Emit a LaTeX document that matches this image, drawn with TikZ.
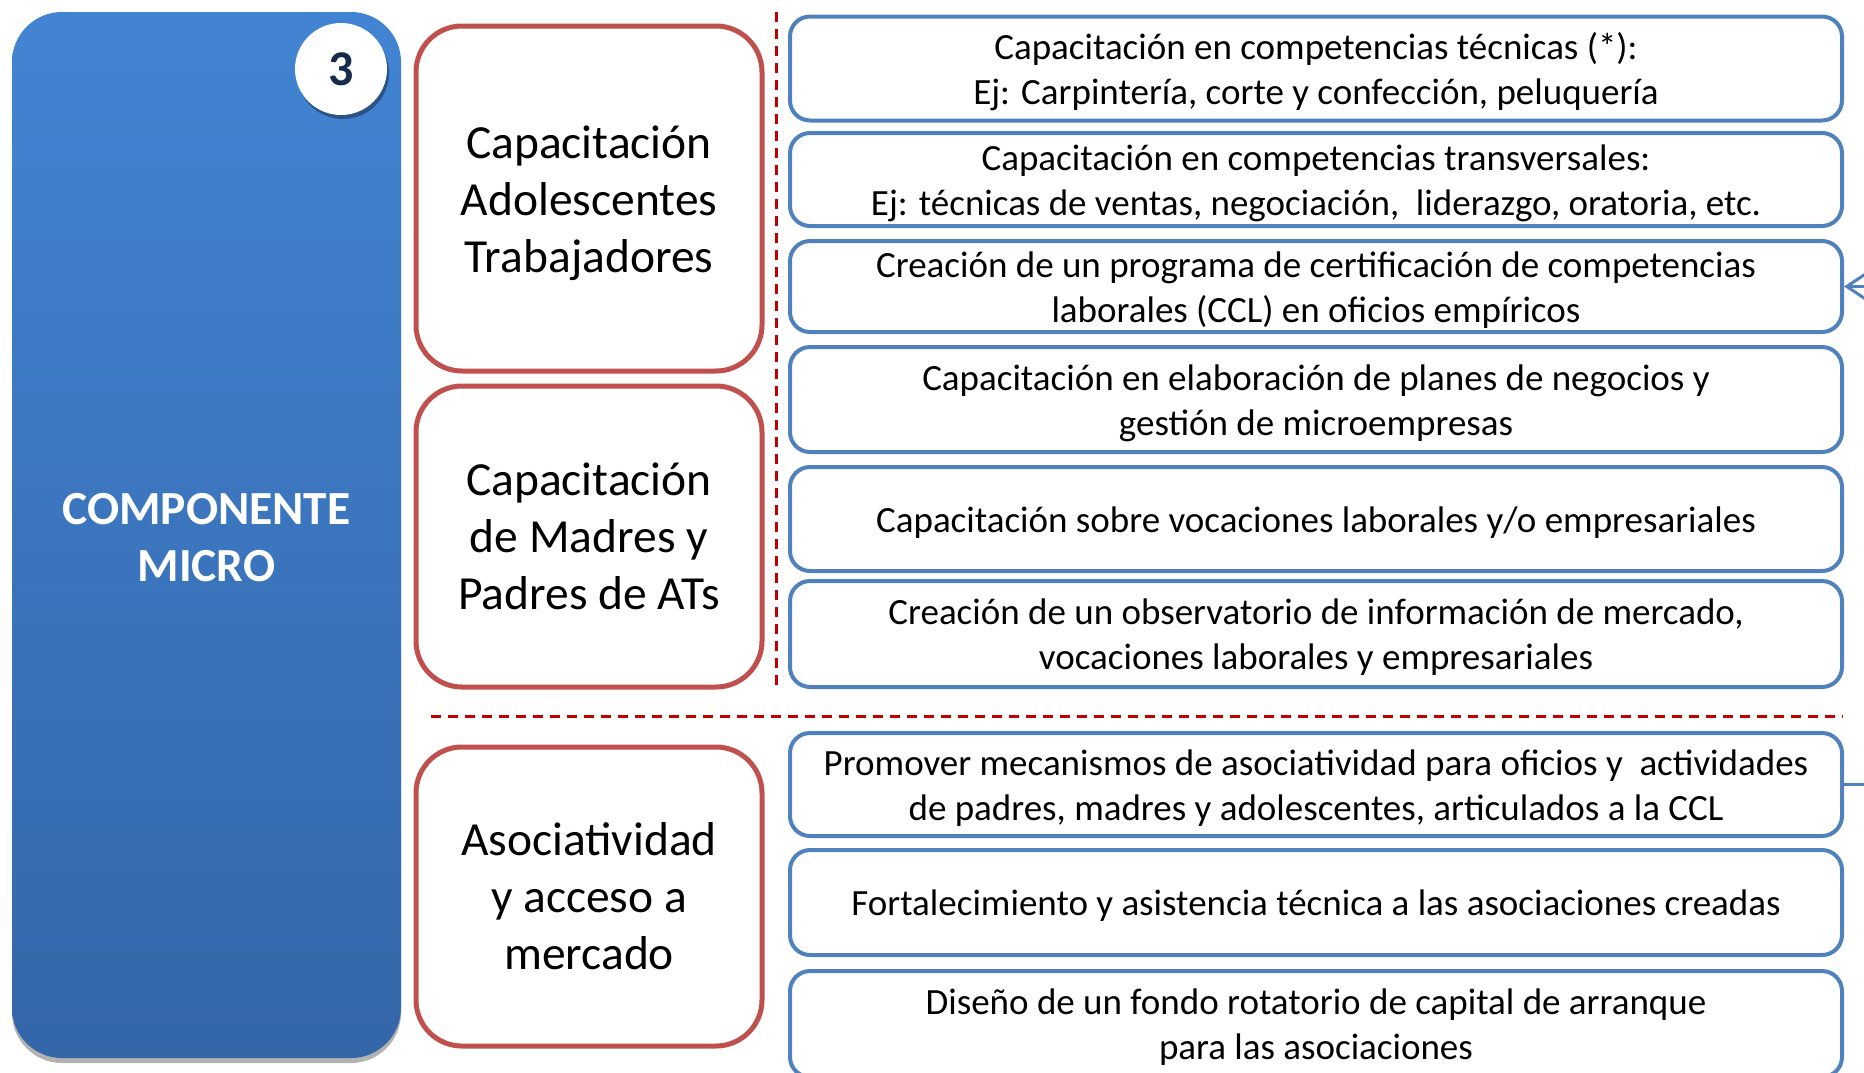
\documentclass[tikz,border=0pt]{standalone}
\usepackage{fontspec}
\setmainfont{Carlito}
\usetikzlibrary{arrows.meta,shadows}
\definecolor{redc}{RGB}{192,80,77}
\definecolor{bluec}{RGB}{79,129,189}
\definecolor{dashc}{RGB}{192,0,0}
\definecolor{bigtop}{RGB}{66,132,211}
\definecolor{bigbot}{RGB}{52,102,168}
\definecolor{navy}{RGB}{23,43,77}
\newcommand\redfnt{\fontsize{47.5}{57}\selectfont}
\newcommand\bluefnt{\fontsize{37}{45}\selectfont}
\newcommand\compfnt{\fontsize{47.5}{57}\selectfont\bfseries}
\newcommand\numfnt{\fontsize{50}{60}\selectfont\bfseries}
\tikzset{
  redbox/.style={draw=redc, line width=5pt, rounded corners=46pt, fill=white,
    minimum width=346pt, inner sep=0pt},
  redtext/.style={align=center, font=\redfnt, inner sep=0pt},
  bluebox/.style={draw=bluec, line width=4pt, rounded corners=20pt, fill=white,
    minimum width=1052pt, inner sep=0pt},
  bluetext/.style={align=center, font=\bluefnt, inner sep=0pt},
  bigbox/.style={rounded corners=50pt, top color=bigtop, bottom color=bigbot,
    minimum width=389pt, minimum height=1046pt, inner sep=0pt,
    drop shadow={shadow xshift=0pt, shadow yshift=-5pt, opacity=0.3, fill=black}},
  comptext/.style={align=center, font=\compfnt, text=white, inner sep=0pt},
  numcircle/.style={circle, fill=white, minimum size=92pt, inner sep=0pt,
    font=\numfnt, text=navy,
    drop shadow={shadow xshift=2pt, shadow yshift=-4pt, opacity=0.35, fill=black}},
  dashline/.style={draw=dashc, line width=3pt, dash pattern=on 10pt off 7pt},
  conn/.style={draw=bluec, line width=3pt},
}
\begin{document}
\begin{tikzpicture}[x=1pt,y=-1pt]
\useasboundingbox (0,0) rectangle (1864,1072);
\clip (0,0) rectangle (1864,1072);
% big component box
\node[bigbox] (comp) at (206.5,535) {};
\node[comptext] (compt) at ([yshift=-2.5pt]comp.center) {COMPONENTE\\MICRO};
\node[numcircle] (num) at (341,69) {3};
% dashed separators
\coordinate (vtop) at (776,12);
\coordinate (vbot) at (776,687);
\coordinate (hl) at (431,716);
\coordinate (hr) at (1843,716);
\draw[dashline] (vtop) -- (vbot);
\draw[dashline] (hl) -- (hr);
% red boxes
\node[redbox, minimum height=345pt] (r1) at (589,198.5) {};
\node[redbox, minimum height=301pt] (r2) at (589,536.5) {};
\node[redbox, minimum height=299pt] (r3) at (589,896.5) {};
\node[redtext] (r1t) at ([yshift=-4.5pt]r1.center) {Capacitación\\Adolescentes\\Trabajadores};
\node[redtext] (r2t) at (r2.center) {Capacitación\\de Madres y\\Padres de ATs};
\node[redtext] (r3t) at (r3.center) {Asociatividad\\y acceso a\\mercado};
% blue boxes
\node[bluebox, minimum height=104pt] (b1) at (1316,68.5) {};
\node[bluebox, minimum height=93pt] (b2) at (1316,179.5) {};
\node[bluebox, minimum height=91pt] (b3) at (1316,286.5) {};
\node[bluebox, minimum height=105pt] (b4) at (1316,399.5) {};
\node[bluebox, minimum height=104pt] (b5) at (1316,519) {};
\node[bluebox, minimum height=106pt] (b6) at (1316,634) {};
\node[bluebox, minimum height=103pt] (b7) at (1316,784.5) {};
\node[bluebox, minimum height=105pt] (b8) at (1316,902.5) {};
\node[bluebox, minimum height=106pt] (b9) at (1316,1024) {};
\node[bluetext] (b1t) at ([yshift=-3.6pt]b1.center) {Capacitación en competencias técnicas (*):\\Ej: Carpintería, corte y confección, peluquería};
\node[bluetext] (b2t) at ([yshift=-3.6pt]b2.center) {Capacitación en competencias transversales:\\Ej: técnicas de ventas, negociación,\ \ liderazgo, oratoria, etc.};
\node[bluetext] (b3t) at ([yshift=-3.6pt]b3.center) {Creación de un programa de certificación de competencias\\laborales (CCL) en oficios empíricos};
\node[bluetext] (b4t) at ([yshift=-3.6pt]b4.center) {Capacitación en elaboración de planes de negocios y\\gestión de microempresas};
\node[bluetext] (b5t) at ([yshift=-3.6pt]b5.center) {Capacitación sobre vocaciones laborales y/o empresariales};
\node[bluetext] (b6t) at ([yshift=-3.6pt]b6.center) {Creación de un observatorio de información de mercado,\\vocaciones laborales y empresariales};
\node[bluetext] (b7t) at ([yshift=-3.6pt]b7.center) {Promover mecanismos de asociatividad para oficios y\ \ actividades\\de padres, madres y adolescentes, articulados a la CCL};
\node[bluetext] (b8t) at ([yshift=-3.6pt]b8.center) {Fortalecimiento y asistencia técnica a las asociaciones creadas};
\node[bluetext] (b9t) at ([yshift=-3.6pt]b9.center) {Diseño de un fondo rotatorio de capital de arranque\\para las asociaciones};
% connectors leaving the picture
\coordinate (inA) at (1866,286.5);
\coordinate (outB) at (1866,784.5);
\draw[conn, -{Straight Barb[length=18pt,width=24pt]}] (inA) -- (b3.east);
\draw[conn] (b7.east) -- (outB);
\end{tikzpicture}
\end{document}
